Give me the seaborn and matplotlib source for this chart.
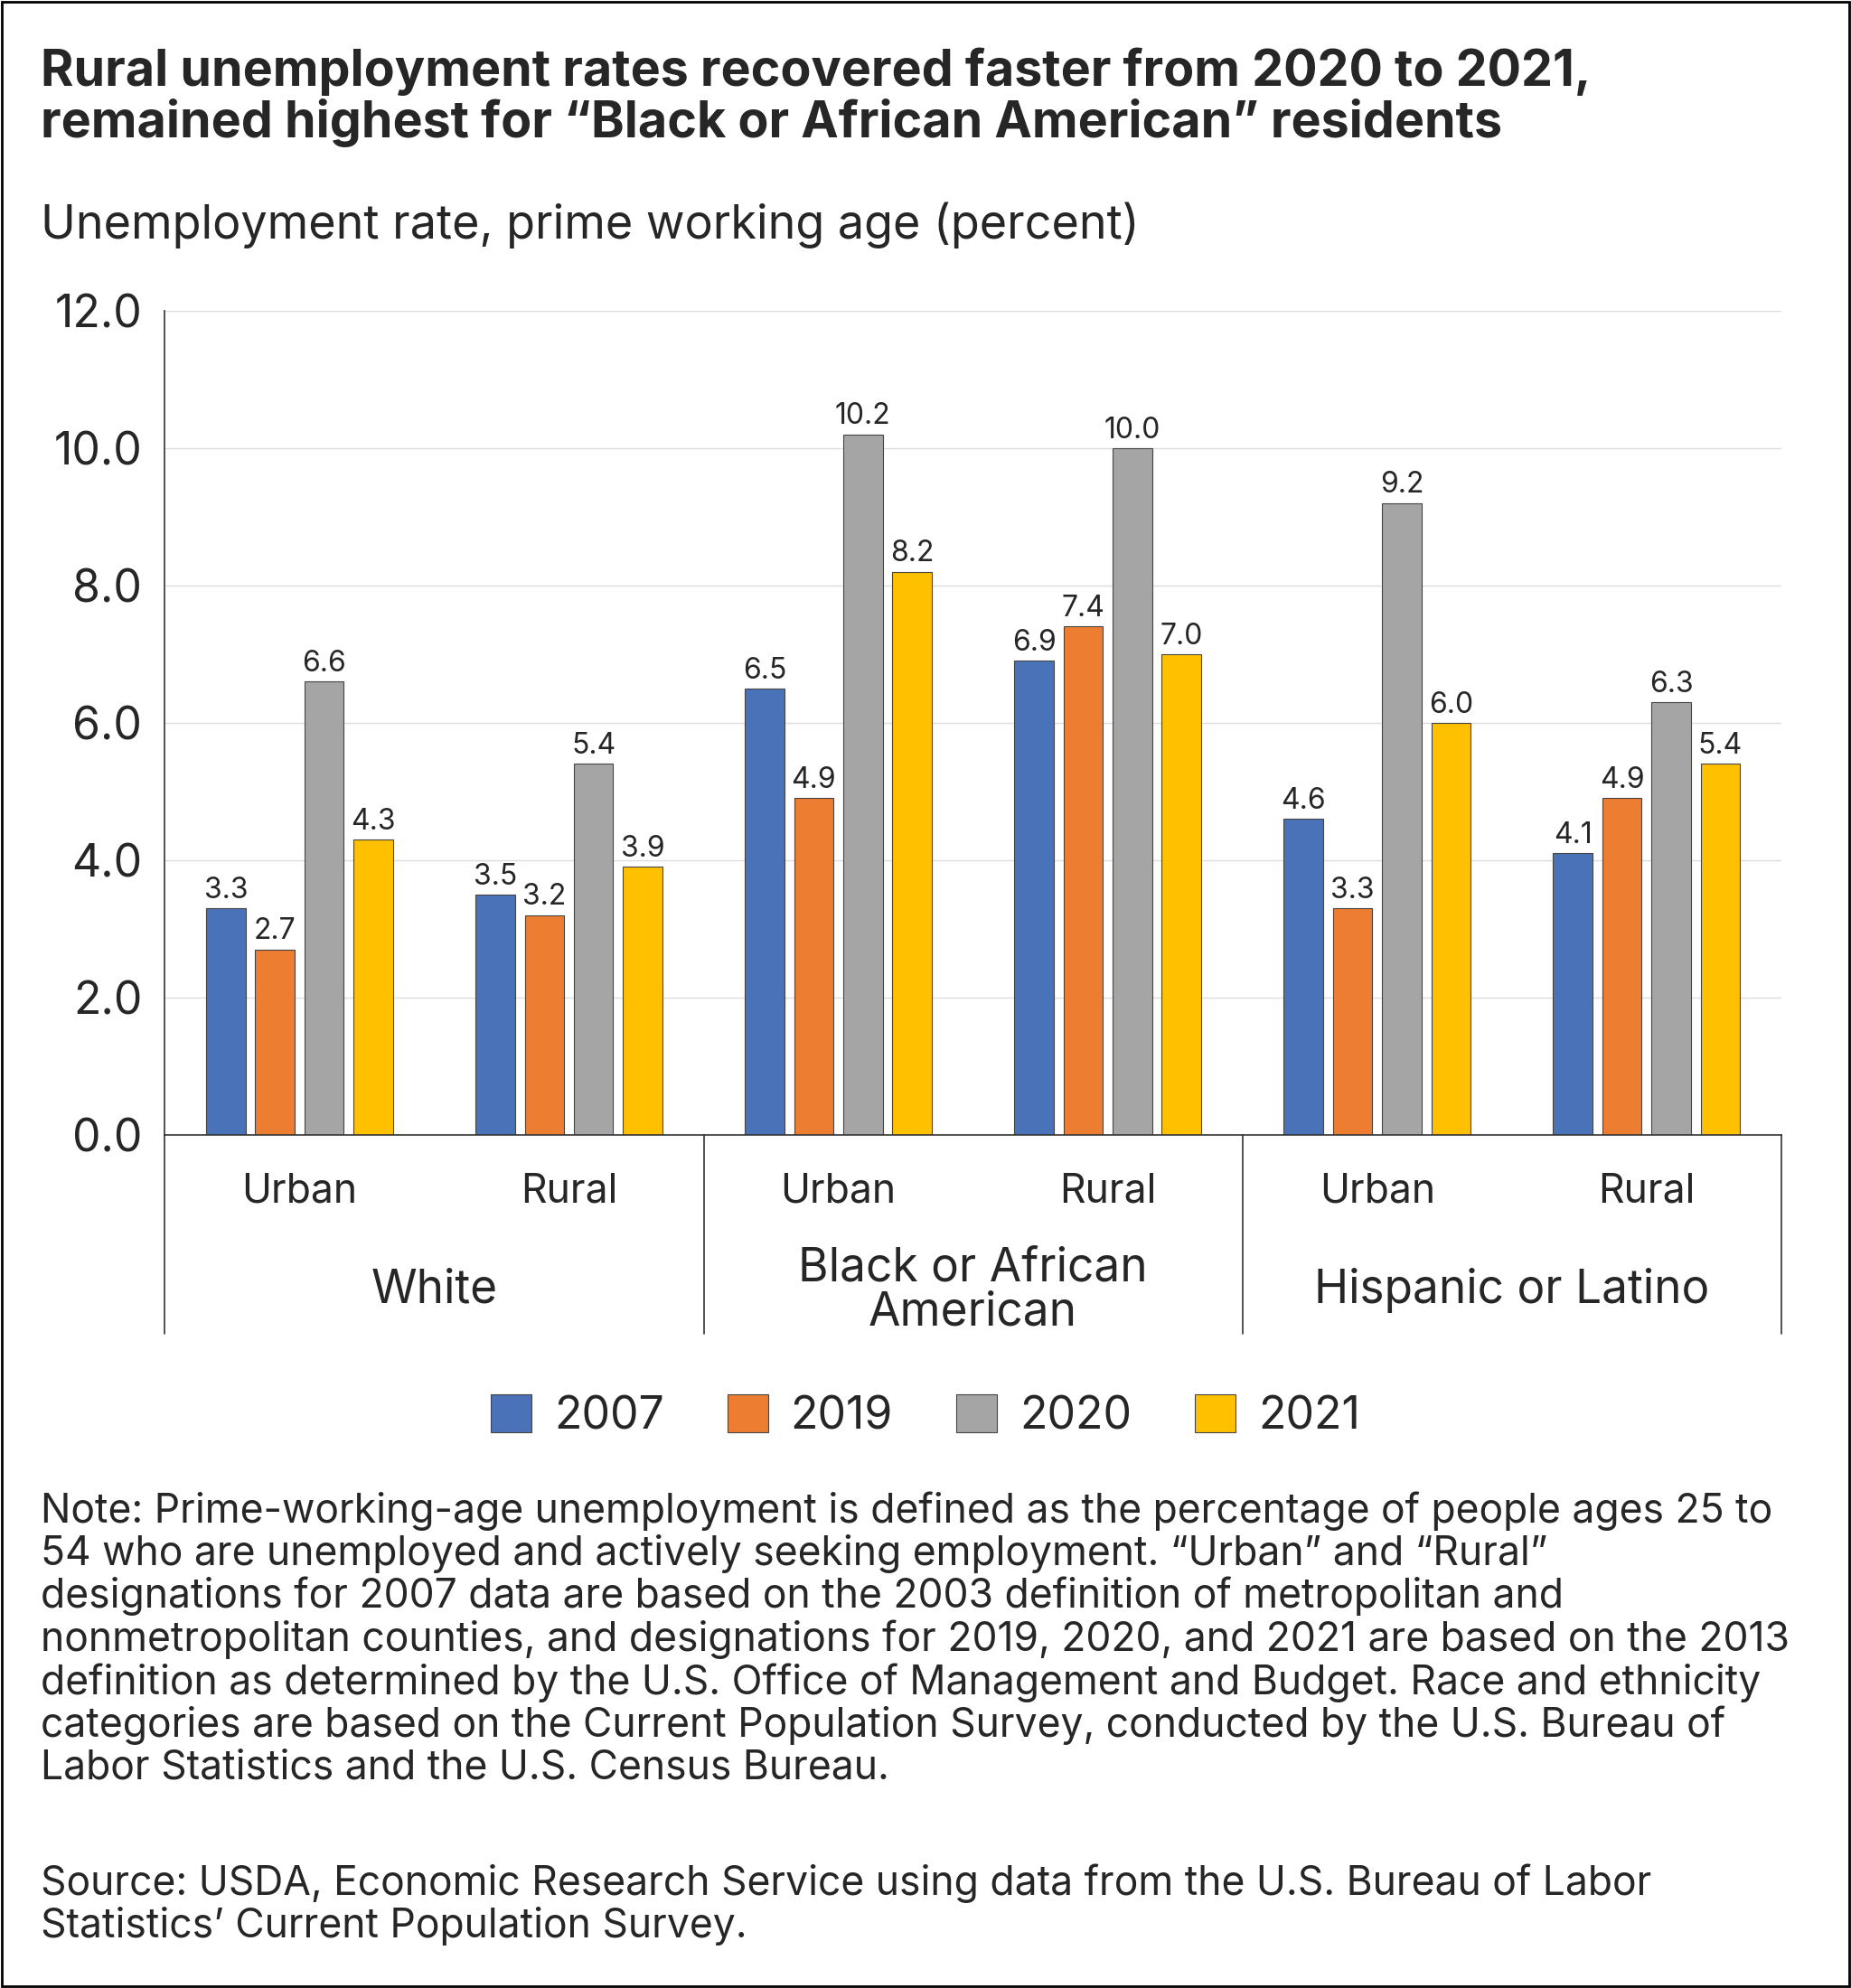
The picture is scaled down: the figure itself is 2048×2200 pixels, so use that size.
import pandas as pd
import matplotlib.pyplot as plt
import seaborn as sns
from matplotlib.patches import Rectangle

# ---------------- DATA ----------------
groups = ["White", "Black or African\nAmerican", "Hispanic or Latino"]
areas = ["Urban", "Rural"]
years = ["2007", "2019", "2020", "2021"]
v2007 = [3.3, 3.5, 6.5, 6.9, 4.6, 4.1]
v2019 = [2.7, 3.2, 4.9, 7.4, 3.3, 4.9]
v2020 = [6.6, 5.4, 10.2, 10.0, 9.2, 6.3]
v2021 = [4.3, 3.9, 8.2, 7.0, 6.0, 5.4]
colors = ["#4a72b8", "#ed7d31", "#a5a5a5", "#ffc000"]

slots = [f"{g}|{a}" for g in groups for a in areas]
rows = []
for yr, vals in zip(years, [v2007, v2019, v2020, v2021]):
    for s, v in zip(slots, vals):
        rows.append({"slot": s, "year": yr, "value": v})
df = pd.DataFrame(rows)

sns.set_style("white")
plt.rcParams["font.family"] = ["Inter", "DejaVu Sans"]

W, H = 1460, 1568  # layout measured on reference
fig = plt.figure(figsize=(20.48, 22), dpi=100)
ax = fig.add_axes([130 / W, 1 - 895 / H, 1275 / W, 650 / H])

sns.barplot(data=df, x="slot", y="value", hue="year", palette=colors, saturation=1,
            order=slots, hue_order=years, width=0.73, gap=0.2,
            edgecolor="#444444", linewidth=0.8, ax=ax, legend=False)

for c in ax.containers:
    ax.bar_label(c, fmt="%.1f", padding=3, fontsize=23)

ax.set_ylim(0, 12)
ax.set_xlim(-0.5, 5.5)
ax.set_yticks([0, 2, 4, 6, 8, 10, 12])
ax.set_yticklabels([f"{t:.1f}" for t in [0, 2, 4, 6, 8, 10, 12]], fontsize=36)
ax.yaxis.grid(True, color="#dddddd", linewidth=1)
ax.set_axisbelow(True)
ax.tick_params(axis="y", length=12, width=1.2, color="#333333", pad=6)
ax.tick_params(axis="x", length=8, width=1.2, color="#333333", pad=22)
ax.set_xticks(range(6))
ax.set_xticklabels(areas * 3, fontsize=32)
ax.set_xlabel("")
ax.set_ylabel("")
for s in ["top", "right"]:
    ax.spines[s].set_visible(False)
for s in ["left", "bottom"]:
    ax.spines[s].set_color("#333333")
    ax.spines[s].set_linewidth(1.2)

# group separators and labels
for xs in [-0.5, 1.5, 3.5, 5.5]:
    ax.plot([xs, xs], [0, -2.9], color="#333333", lw=1.2, clip_on=False)
for i, g in enumerate(groups):
    ax.text(2 * i + 0.5, -2.27, g, ha="center", va="center", fontsize=37,
            linespacing=1.0)

# legend
handles = [Rectangle((0, 0), 1, 1, facecolor=c, edgecolor="#444444", lw=0.8) for c in colors]
fig.legend(handles, years, loc="center", bbox_to_anchor=(0.5, 1 - 1117 / H), ncol=4,
           frameon=False, fontsize=36, handlelength=0.9, handleheight=0.9,
           columnspacing=1.4, handletextpad=0.5)

# text
fig.text(32 / W, 1 - 77 / H, "Rural unemployment rates recovered faster from 2020 to 2021,\n"
         "remained highest for \u201cBlack or African American\u201d residents",
         ha="left", va="center", fontsize=40, fontweight="bold", linespacing=1.08)
fig.text(32 / W, 1 - 178 / H, "Unemployment rate, prime working age (percent)",
         ha="left", va="center", fontsize=37.5)
note = ("Note: Prime-working-age unemployment is defined as the percentage of people ages 25 to\n"
        "54 who are unemployed and actively seeking employment. \u201cUrban\u201d and \u201cRural\u201d\n"
        "designations for 2007 data are based on the 2003 definition of metropolitan and\n"
        "nonmetropolitan counties, and designations for 2019, 2020, and 2021 are based on the 2013\n"
        "definition as determined by the U.S. Office of Management and Budget. Race and ethnicity\n"
        "categories are based on the Current Population Survey, conducted by the U.S. Bureau of\n"
        "Labor Statistics and the U.S. Census Bureau.")
fig.text(32 / W, 1 - 1176 / H, note, ha="left", va="top", fontsize=32, linespacing=1.12)
src = ("Source: USDA, Economic Research Service using data from the U.S. Bureau of Labor\n"
       "Statistics\u2019 Current Population Survey.")
fig.text(32 / W, 1 - 1470 / H, src, ha="left", va="top", fontsize=32, linespacing=1.12)

fig.patches.append(Rectangle((0.001, 0.001), 0.998, 0.998, transform=fig.transFigure,
                             fill=False, edgecolor="black", lw=2))
fig.savefig("out.png", dpi=100)
